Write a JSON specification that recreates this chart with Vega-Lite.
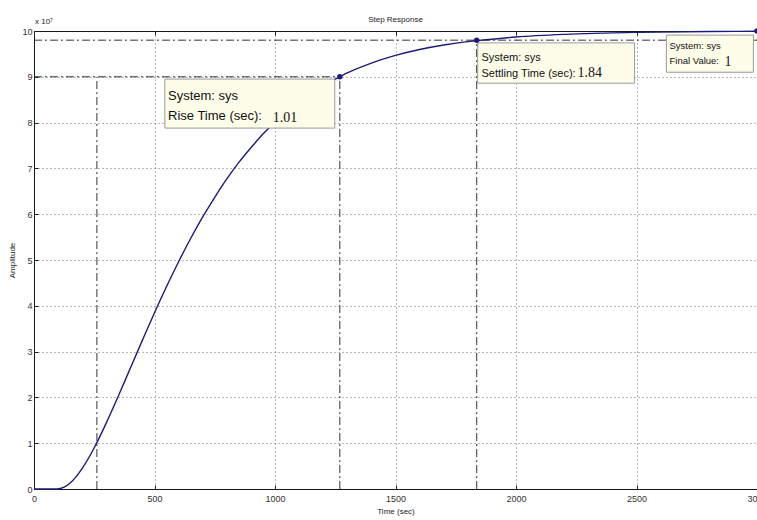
{
  "$schema": "https://vega.github.io/schema/vega-lite/v6.json",
  "width": 723,
  "height": 458,
  "autosize": {"type": "none"},
  "padding": {"left": 34, "top": 31, "right": 0, "bottom": 31},
  "background": "white",
  "title": {"text": "Step Response", "fontSize": 8, "fontWeight": "normal", "font": "Liberation Sans", "color": "#222", "offset": -6},
  "config": {
    "view": {"stroke": "#111", "strokeWidth": 1},
    "axis": {
      "labelFont": "Liberation Sans", "labelFontSize": 9, "labelColor": "#333",
      "titleFont": "Liberation Sans", "titleFontSize": 8, "titleFontWeight": "normal", "titleColor": "#222",
      "labelFlush": false, "labelOverlap": false,
      "domain": false, "tickColor": "#222", "tickSize": -4, "tickWidth": 1,
      "gridColor": "#333", "gridDash": [1, 3], "gridOpacity": 0.7, "gridWidth": 1
    }
  },
  "datasets": {
    "curve": [
      {"t": 0, "y": 0}, {"t": 50, "y": 0}, {"t": 95, "y": 0}, {"t": 125, "y": 0.04}, {"t": 150, "y": 0.13},
      {"t": 175, "y": 0.27}, {"t": 200, "y": 0.45}, {"t": 250, "y": 0.9}, {"t": 300, "y": 1.443},
      {"t": 350, "y": 2.03}, {"t": 400, "y": 2.642}, {"t": 450, "y": 3.25}, {"t": 500, "y": 3.849},
      {"t": 550, "y": 4.42}, {"t": 600, "y": 4.963}, {"t": 650, "y": 5.47}, {"t": 700, "y": 5.94},
      {"t": 750, "y": 6.37}, {"t": 800, "y": 6.77}, {"t": 850, "y": 7.13}, {"t": 900, "y": 7.45},
      {"t": 950, "y": 7.75}, {"t": 1000, "y": 8.01}, {"t": 1100, "y": 8.45}, {"t": 1200, "y": 8.81},
      {"t": 1269, "y": 9.0}, {"t": 1300, "y": 9.084}, {"t": 1400, "y": 9.3}, {"t": 1500, "y": 9.467},
      {"t": 1600, "y": 9.596}, {"t": 1700, "y": 9.694}, {"t": 1800, "y": 9.769}, {"t": 1837, "y": 9.79},
      {"t": 2000, "y": 9.87}, {"t": 2200, "y": 9.927}, {"t": 2500, "y": 9.97}, {"t": 2800, "y": 9.988},
      {"t": 3000, "y": 9.993}
    ],
    "rules": [
      {"t": 0, "t2": 1269, "y": 9, "y2": 9},
      {"t": 261, "t2": 261, "y": 0, "y2": 9},
      {"t": 1269, "t2": 1269, "y": 0, "y2": 9},
      {"t": 0, "t2": 3000, "y": 9.8, "y2": 9.8},
      {"t": 1837, "t2": 1837, "y": 0, "y2": 9.8}
    ],
    "dots": [
      {"t": 1269, "y": 9.0}, {"t": 1837, "y": 9.8}, {"t": 3000, "y": 10}
    ],
    "boxes": [
      {"box": 1, "t": 543, "t2": 1248, "y": 8.95, "y2": 7.88},
      {"box": 2, "t": 1841, "t2": 2492, "y": 9.74, "y2": 8.86},
      {"box": 3, "t": 2624, "t2": 2985, "y": 9.91, "y2": 9.1}
    ],
    "texts": [
      {"box": 1, "t": 556, "y": 8.5, "label": "System: sys"},
      {"box": 1, "t": 556, "y": 8.06, "label": "Rise Time (sec):"},
      {"box": 2, "t": 1857, "y": 9.345, "label": "System: sys"},
      {"box": 2, "t": 1857, "y": 9.0, "label": "Settling Time (sec):"},
      {"box": 3, "t": 2637, "y": 9.61, "label": "System: sys"},
      {"box": 3, "t": 2637, "y": 9.28, "label": "Final Value:"}
    ],
    "values": [
      {"t": 991, "y": 8.02, "label": "1.01"},
      {"t": 2255, "y": 8.99, "label": "1.84"},
      {"t": 2865, "y": 9.23, "label": "1"}
    ],
    "exponent": [{"t": 0, "y": 10, "label": "x 10⁷"}]
  },
  "resolve": {"axis": {"x": "independent"}},
  "layer": [
    {
      "data": {"name": "rules"},
      "mark": {"type": "rule", "color": "#333", "strokeWidth": 1, "strokeDash": [8, 3, 2, 3]},
      "encoding": {
        "x": {"field": "t", "type": "quantitative", "scale": {"domain": [0, 3000], "nice": false},
              "axis": {"values": [0, 500, 1000, 1500, 2000, 2500, 3000], "format": "d", "title": "Time (sec)", "grid": true, "labelPadding": 9, "titlePadding": 4}},
        "x2": {"field": "t2"},
        "y": {"field": "y", "type": "quantitative", "scale": {"domain": [0, 10], "nice": false},
              "axis": {"values": [0, 1, 2, 3, 4, 5, 6, 7, 8, 9, 10], "title": "Amplitude", "grid": true, "labelPadding": 6, "titlePadding": 5}},
        "y2": {"field": "y2"}
      }
    },
    {
      "data": {"name": "curve"},
      "mark": {"type": "point", "opacity": 0},
      "encoding": {
        "x": {"field": "t", "type": "quantitative", "axis": {"orient": "top", "values": [0, 500, 1000, 1500, 2000, 2500, 3000], "labels": false, "title": null, "grid": false}},
        "y": {"field": "y", "type": "quantitative"}
      }
    },
    {
      "data": {"name": "curve"},
      "mark": {"type": "line", "color": "#1c1c78", "strokeWidth": 1.4, "interpolate": "monotone"},
      "encoding": {
        "x": {"field": "t", "type": "quantitative", "axis": null},
        "y": {"field": "y", "type": "quantitative"}
      }
    },
    {
      "data": {"name": "boxes"},
      "mark": {"type": "rect", "fill": "#fdfdea", "stroke": "#9a9a9a", "strokeWidth": 1},
      "encoding": {
        "x": {"field": "t", "type": "quantitative", "axis": null},
        "x2": {"field": "t2"},
        "y": {"field": "y", "type": "quantitative"},
        "y2": {"field": "y2"}
      }
    },
    {
      "data": {"name": "texts"},
      "transform": [{"filter": "datum.box == 1"}],
      "mark": {"type": "text", "align": "left", "baseline": "alphabetic", "font": "Liberation Sans", "fontSize": 13, "color": "#111"},
      "encoding": {
        "x": {"field": "t", "type": "quantitative", "axis": null},
        "y": {"field": "y", "type": "quantitative"},
        "text": {"field": "label"}
      }
    },
    {
      "data": {"name": "texts"},
      "transform": [{"filter": "datum.box == 2"}],
      "mark": {"type": "text", "align": "left", "baseline": "alphabetic", "font": "Liberation Sans", "fontSize": 11, "color": "#111"},
      "encoding": {
        "x": {"field": "t", "type": "quantitative", "axis": null},
        "y": {"field": "y", "type": "quantitative"},
        "text": {"field": "label"}
      }
    },
    {
      "data": {"name": "texts"},
      "transform": [{"filter": "datum.box == 3"}],
      "mark": {"type": "text", "align": "left", "baseline": "alphabetic", "font": "Liberation Sans", "fontSize": 9.5, "color": "#111"},
      "encoding": {
        "x": {"field": "t", "type": "quantitative", "axis": null},
        "y": {"field": "y", "type": "quantitative"},
        "text": {"field": "label"}
      }
    },
    {
      "data": {"name": "values"},
      "mark": {"type": "text", "align": "left", "baseline": "alphabetic", "font": "Liberation Serif", "fontSize": 14, "color": "#111"},
      "encoding": {
        "x": {"field": "t", "type": "quantitative", "axis": null},
        "y": {"field": "y", "type": "quantitative"},
        "text": {"field": "label"}
      }
    },
    {
      "data": {"name": "dots"},
      "mark": {"type": "circle", "color": "#1c1c78", "size": 30, "opacity": 1},
      "encoding": {
        "x": {"field": "t", "type": "quantitative", "axis": null},
        "y": {"field": "y", "type": "quantitative"}
      }
    },
    {
      "data": {"name": "exponent"},
      "mark": {"type": "text", "align": "left", "baseline": "alphabetic", "font": "Liberation Sans", "fontSize": 8, "color": "#222", "dx": 1, "dy": -7},
      "encoding": {
        "x": {"field": "t", "type": "quantitative", "axis": null},
        "y": {"field": "y", "type": "quantitative"},
        "text": {"field": "label"}
      }
    }
  ]
}
